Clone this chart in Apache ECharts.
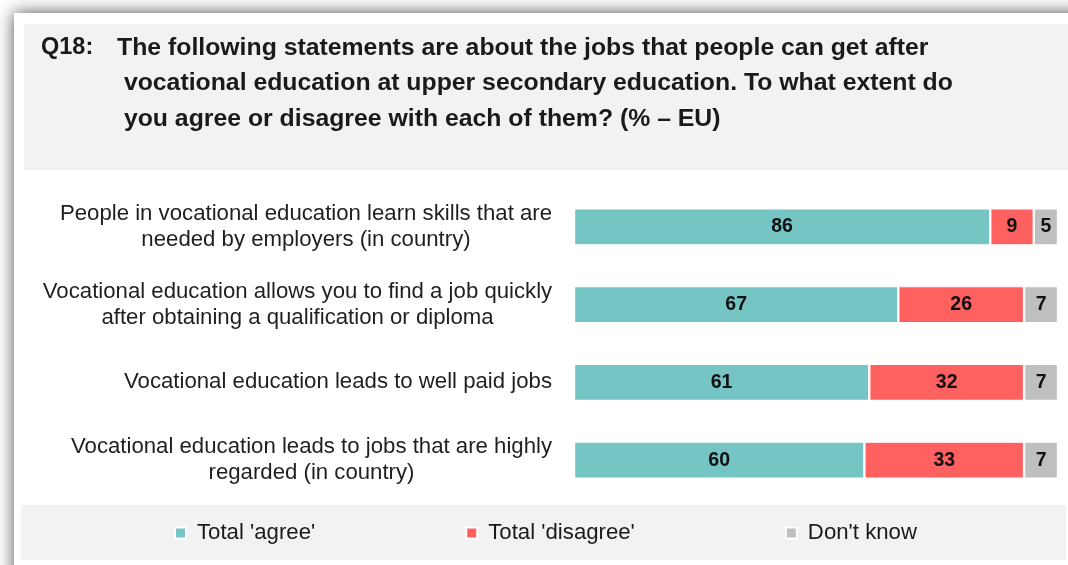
<!DOCTYPE html>
<html>
<head>
<meta charset="utf-8">
<style>
  html, body { margin: 0; padding: 0; background: #ffffff; }
  #chart { width: 1068px; height: 565px; }
</style>
<script src="https://cdn.jsdelivr.net/npm/echarts@6/dist/echarts.min.js"></script>
</head>
<body>
<div id="chart"></div>
<script>
const categories = [
  "People in vocational education learn skills that are\nneeded by employers (in country)",
  "Vocational education allows you to find a job quickly\nafter obtaining a qualification or diploma",
  "Vocational education leads to well paid jobs",
  "Vocational education leads to jobs that are highly\nregarded (in country)"
];
const seriesNames = ["Total 'agree'", "Total 'disagree'", "Don't know"];
const agreeValues = [86, 67, 61, 60];
const disagreeValues = [9, 26, 32, 33];
const dontKnowValues = [5, 7, 7, 7];
const titleQ = "Q18:";
const titleText = "The following statements are about the jobs that people can get after\n vocational education at upper secondary education. To what extent do\n you agree or disagree with each of them? (% \u2013 EU)";

const FONT = '"Liberation Sans", Arial, sans-serif';
const colors = ['#76c5c5', '#ff6161', '#bfbfbf'];
const LABEL_SIZE = 22.2;

// measure widest line for each category label (so lines can be centred inside a right-aligned block)
const ctx = document.createElement('canvas').getContext('2d');
ctx.font = LABEL_SIZE + 'px "Liberation Sans"';
const rich = {};
categories.forEach((c, i) => {
  const w = Math.max(...c.split('\n').map(l => ctx.measureText(l).width));
  rich['c' + i] = { width: Math.ceil(w) + 1, align: 'center', fontSize: LABEL_SIZE, lineHeight: 26, color: '#1f1f1f', fontFamily: FONT };
});

const chart = echarts.init(document.getElementById('chart'), null, { renderer: 'canvas' });

const valueLabel = {
  show: true, position: 'inside', color: '#111', fontWeight: 'bold',
  fontSize: 19.5, fontFamily: FONT
};

function mkSeries(name, data, color) {
  return {
    name, type: 'bar', stack: 'total', data, barWidth: 37,
    itemStyle: { color, borderColor: '#ffffff', borderWidth: 1.2 },
    label: valueLabel,
    emphasis: { disabled: true }
  };
}

chart.setOption({
  animation: false,
  backgroundColor: '#ffffff',
  graphic: [
    { type: 'rect', z: -10, shape: { x: 14, y: 13, width: 1200, height: 700 },
      style: { fill: '#ffffff', shadowBlur: 16, shadowColor: 'rgba(0,0,0,0.7)' } },
    { type: 'rect', z: -9, shape: { x: 24, y: 24, width: 1100, height: 146 },
      style: { fill: '#f2f2f2' } },
    { type: 'rect', z: -9, shape: { x: 21, y: 505, width: 1045, height: 55 },
      style: { fill: '#f2f2f2' } }
  ],
  title: [
    { text: titleQ, left: 41, top: 30, padding: 0,
      textStyle: { fontSize: 23.5, fontWeight: 'bold', color: '#1a1a1a', fontFamily: FONT, lineHeight: 35.5 } },
    { text: titleText, left: 117, top: 30, padding: 0,
      textStyle: { fontSize: 24.8, fontWeight: 'bold', color: '#1a1a1a', fontFamily: FONT, lineHeight: 35.5 } }
  ],
  legend: {
    data: seriesNames,
    left: 174, top: 522, padding: 0,
    itemWidth: 11, itemHeight: 11, itemGap: 150,
    icon: 'rect',
    itemStyle: { borderColor: '#ffffff', borderWidth: 2 },
    textStyle: { fontSize: 22.2, color: '#1a1a1a', fontFamily: FONT, padding: [0, 0, 0, 6] },
    selectedMode: false
  },
  grid: { left: 574, right: 10, top: 188, bottom: 66, containLabel: false },
  xAxis: { type: 'value', min: 0, max: 100, show: false },
  yAxis: {
    type: 'category', data: categories, inverse: true,
    axisLine: { show: false }, axisTick: { show: false }, splitLine: { show: false },
    axisLabel: {
      margin: 21, align: 'right',
      formatter: (v, i) => v.split('\n').map(l => '{c' + i + '|' + l + '}').join('\n'),
      rich
    }
  },
  series: [
    mkSeries(seriesNames[0], agreeValues, colors[0]),
    mkSeries(seriesNames[1], disagreeValues, colors[1]),
    mkSeries(seriesNames[2], dontKnowValues, colors[2])
  ]
});
</script>
</body>
</html>
